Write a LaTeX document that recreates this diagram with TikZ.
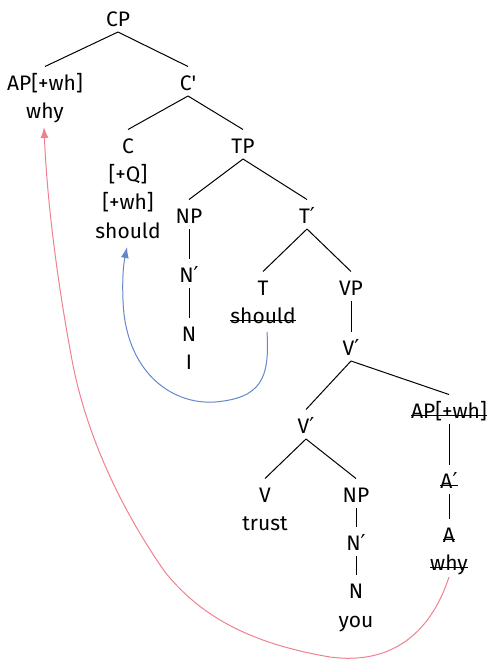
\documentclass[tikz,border=0pt]{standalone}
\usepackage{fontspec}
\setmainfont{Fira Sans}
\newfontfamily\primefont{DejaVu Sans}
\newcommand\pr{{\primefont\fontsize{22}{25}\selectfont ′}}
\usetikzlibrary{arrows.meta}
\tikzset{
  lbl/.style={inner sep=0pt, outer sep=0pt, text height=15.5pt, text depth=0pt,
    font=\fontsize{21}{25}\selectfont, anchor=base},
  branch/.style={draw=black, line width=1pt},
  strikeline/.style={draw=black, line width=1pt},
  bluemove/.style={line width=1pt, color={rgb,255:red,100;green,135;blue,205},
    -{Latex[length=11pt,width=8pt]}},
  redmove/.style={line width=1pt, color={rgb,255:red,240;green,128;blue,142},
    -{Latex[length=11pt,width=8pt]}}
}
\newcommand\br[2]{\draw[branch] ([yshift=-6pt]#1.south) -- ([yshift=8pt]#2.north);}
\newcommand\strk[1]{\draw[strikeline] (#1.mid west) -- (#1.mid east);}
\begin{document}
\begin{tikzpicture}[x=1pt,y=-1pt]
\useasboundingbox (0,0) rectangle (488,659);
\node[lbl] (CP) at (118,26) {CP};
\node[lbl] (AP) at (45,90) {AP[+wh]};
\node[lbl] (why) at (45,118) {why};
\node[lbl] (Cbar) at (188,90) {C\textquotesingle};
\node[lbl] (C) at (128,153) {C};
\node[lbl] (Q) at (128,181) {[+Q]};
\node[lbl] (wh) at (128,209) {[+wh]};
\node[lbl] (shouldC) at (128,238) {should};
\node[lbl] (TP) at (243,153) {TP};
\node[lbl] (NPa) at (189,223) {NP};
\node[lbl] (Nba) at (189,282) {N\pr};
\node[lbl] (Na) at (189,341) {N};
\node[lbl] (I) at (189,369) {I};
\node[lbl] (Tbar) at (307,223) {T\pr};
\node[lbl] (T) at (263,295) {T};
\node[lbl] (shouldT) at (263,323) {should};
\node[lbl] (VP) at (351,295) {VP};
\node[lbl] (Vba) at (351,355) {V\pr};
\node[lbl] (Vbb) at (306,433) {V\pr};
\node[lbl] (APs) at (449,418) {AP[+wh]};
\node[lbl] (V) at (265,502) {V};
\node[lbl] (trust) at (265,530) {trust};
\node[lbl] (NPb) at (356,502) {NP};
\node[lbl] (Nbb) at (356,550) {N\pr};
\node[lbl] (Nb) at (356,598) {N};
\node[lbl] (you) at (356,627) {you};
\node[lbl] (Abar) at (449,488) {A\pr};
\node[lbl] (A) at (449,542) {A};
\node[lbl] (whys) at (449,570) {why};
\strk{shouldT}
\strk{APs}
\strk{Abar}
\strk{A}
\strk{whys}
\br{CP}{AP}
\br{CP}{Cbar}
\br{Cbar}{C}
\br{Cbar}{TP}
\br{TP}{NPa}
\br{TP}{Tbar}
\br{NPa}{Nba}
\br{Nba}{Na}
\br{Tbar}{T}
\br{Tbar}{VP}
\br{VP}{Vba}
\br{Vba}{Vbb}
\br{Vba}{APs}
\br{Vbb}{V}
\br{Vbb}{NPb}
\br{NPb}{Nbb}
\br{Nbb}{Nb}
\br{APs}{Abar}
\br{Abar}{A}
\coordinate (b1) at (215,402);
\coordinate (b2) at (123,300);
\draw[bluemove] ([xshift=4pt,yshift=-9pt]shouldT.south) .. controls (270,380) and (260,398) .. (b1)
  .. controls (170,405) and (125,370) .. (b2)
  .. controls (122,275) and (124,262) .. ([xshift=-1pt,yshift=-9pt]shouldC.south);
\coordinate (r1) at (330,657);
\coordinate (r2) at (165,572);
\coordinate (r3) at (72,360);
\draw[redmove] ([yshift=-7pt]whys.south) .. controls (430,635) and (390,665) .. (r1)
  .. controls (260,645) and (205,622) .. (r2)
  .. controls (125,515) and (87,440) .. (r3)
  .. controls (57,280) and (47,200) .. ([xshift=-1pt,yshift=-9pt]why.south);
\end{tikzpicture}
\end{document}
